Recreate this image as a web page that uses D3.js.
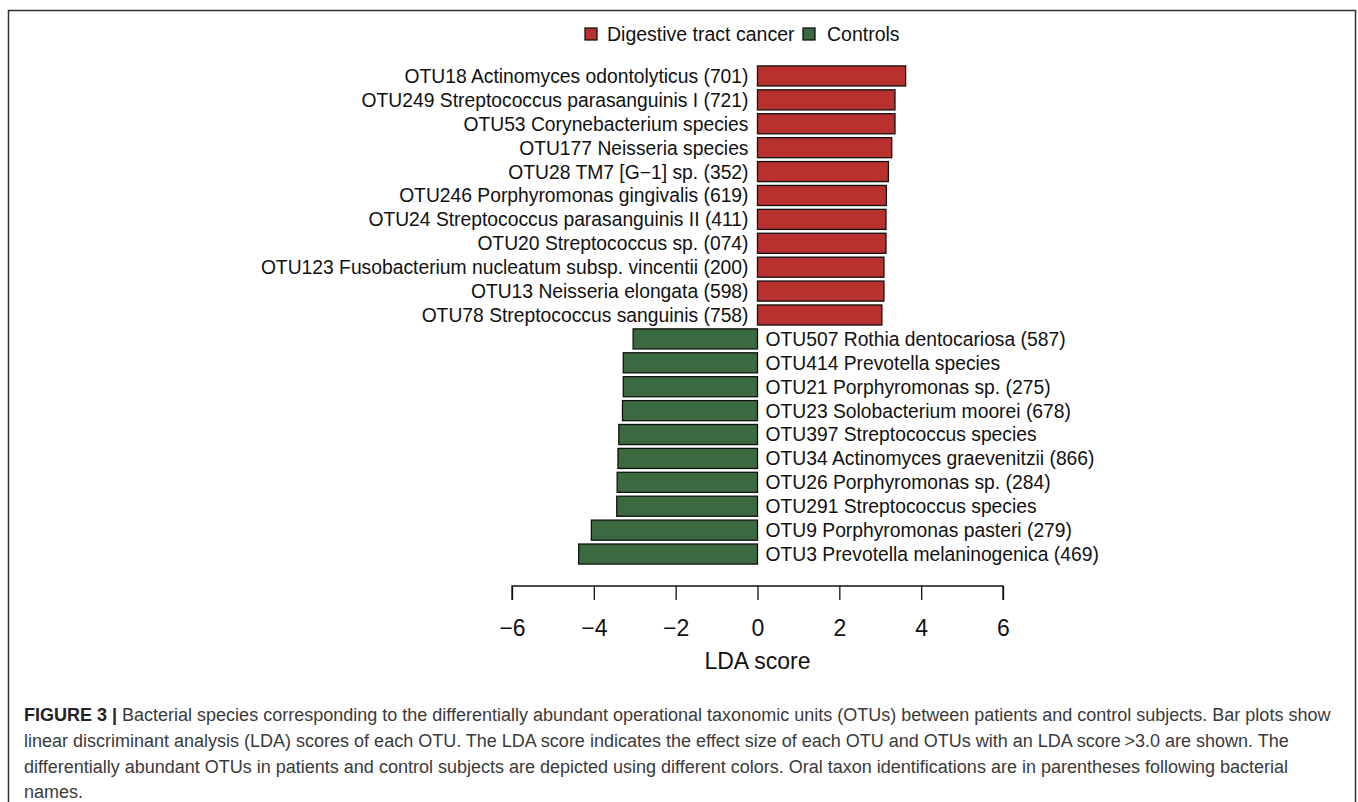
<!DOCTYPE html>
<html><head><meta charset="utf-8">
<script src="https://cdn.jsdelivr.net/npm/d3@7"></script>
<style>body{margin:0;background:#fff;}svg{display:block;}</style>
</head><body>
<svg id="c" width="1358" height="802"></svg>
<script>
const labels = [
 "OTU18 Actinomyces odontolyticus (701)",
 "OTU249 Streptococcus parasanguinis I (721)",
 "OTU53 Corynebacterium species",
 "OTU177 Neisseria species",
 "OTU28 TM7 [G\u22121] sp. (352)",
 "OTU246 Porphyromonas gingivalis (619)",
 "OTU24 Streptococcus parasanguinis II (411)",
 "OTU20 Streptococcus sp. (074)",
 "OTU123 Fusobacterium nucleatum subsp. vincentii (200)",
 "OTU13 Neisseria elongata (598)",
 "OTU78 Streptococcus sanguinis (758)",
 "OTU507 Rothia dentocariosa (587)",
 "OTU414 Prevotella species",
 "OTU21 Porphyromonas sp. (275)",
 "OTU23 Solobacterium moorei (678)",
 "OTU397 Streptococcus species",
 "OTU34 Actinomyces graevenitzii (866)",
 "OTU26 Porphyromonas sp. (284)",
 "OTU291 Streptococcus species",
 "OTU9 Porphyromonas pasteri (279)",
 "OTU3 Prevotella melaninogenica (469)"
];
const ldaScores = [3.62, 3.36, 3.36, 3.28, 3.20, 3.15, 3.14, 3.14, 3.09, 3.09, 3.04,
  -3.04, -3.28, -3.28, -3.30, -3.39, -3.41, -3.43, -3.44, -4.06, -4.37];
const groups = ["Digestive tract cancer", "Controls"];
const groupColors = ["#B8312F", "#3B6A40"];
const ticks = [-6, -4, -2, 0, 2, 4, 6];
const captionLines = [
 "Bacterial species corresponding to the differentially abundant operational taxonomic units (OTUs) between patients and control subjects. Bar plots show",
 "linear discriminant analysis (LDA) scores of each OTU. The LDA score indicates the effect size of each OTU and OTUs with an LDA score\u2009>3.0 are shown. The",
 "differentially abundant OTUs in patients and control subjects are depicted using different colors. Oral taxon identifications are in parentheses following bacterial",
 "names."
];

const svg = d3.select("#c");
const font = "'Liberation Sans', Arial, Helvetica, sans-serif";

// frame
svg.append("path").attr("d","M8.5,802 L8.5,10.5 L1355.5,10.5 L1355.5,802")
  .attr("fill","none").attr("stroke","#333").attr("stroke-width",1.5);

const x = d3.scaleLinear().domain([-6, 6]).range([512, 1003]);
const y = d3.scaleBand().domain(d3.range(labels.length)).range([64, 566]).paddingInner(0.16).paddingOuter(0.08);

const g = svg.append("g");
g.selectAll("rect.bar").data(ldaScores).join("rect")
  .attr("class","bar")
  .attr("x", d => x(Math.min(0,d)))
  .attr("width", d => Math.abs(x(d)-x(0)))
  .attr("y", (d,i) => y(i))
  .attr("height", y.bandwidth())
  .attr("fill", d => d>0 ? groupColors[0] : groupColors[1])
  .attr("stroke","#111").attr("stroke-width",1.3);

g.selectAll("text.lab").data(ldaScores).join("text")
  .attr("class","lab")
  .attr("x", d => d>0 ? x(0)-9 : x(0)+8)
  .attr("y", (d,i) => y(i)+y.bandwidth()/2)
  .attr("dy","0.36em")
  .attr("text-anchor", d => d>0 ? "end" : "start")
  .attr("font-family", font).attr("font-size", 19.3).attr("fill","#111")
  .text((d,i) => labels[i]);

// axis
const axis = d3.axisBottom(x).tickValues(ticks).tickSize(14).tickPadding(20)
  .tickFormat(d => d<0 ? "\u2212"+Math.abs(d) : d);
const ax = svg.append("g").attr("transform","translate(0,586)").call(axis);
ax.select(".domain").attr("d", `M${x(-6)},14V0H${x(6)}V14`).attr("stroke","#111").attr("stroke-width",1.3);
ax.selectAll(".tick line").attr("stroke","#111").attr("stroke-width",1.3);
ax.selectAll(".tick text").attr("font-family", font).attr("font-size", 23).attr("fill","#111");
svg.append("text").attr("x", x(0)).attr("y", 669).attr("text-anchor","middle")
  .attr("font-family", font).attr("font-size", 23).attr("fill","#111").text("LDA score");

// legend
const leg = svg.append("g");
const legItems = [{x:585, t:607},{x:803, t:827}];
groups.forEach((name,i) => {
  leg.append("rect").attr("x", legItems[i].x).attr("y", 28).attr("width", 12).attr("height", 12)
    .attr("fill", groupColors[i]).attr("stroke","#111").attr("stroke-width",1.3);
  leg.append("text").attr("x", legItems[i].t).attr("y", 34).attr("dy","0.36em")
    .attr("font-family", font).attr("font-size", 19.5).attr("fill","#111").text(name);
});

// caption
const cap = svg.append("text").attr("font-family","'Liberation Sans Narrow','Liberation Sans',Arial,sans-serif")
  .attr("font-size", 18).attr("fill","#3a3a3a");
captionLines.forEach((line,i) => {
  const t = cap.append("tspan").attr("x", 24).attr("y", 721 + i*25.8);
  if (i===0) {
    t.append("tspan").attr("font-weight","bold").attr("fill","#222").text("FIGURE 3 | ");
    t.append("tspan").text(line);
  } else t.text(line);
});
</script>
</body></html>
